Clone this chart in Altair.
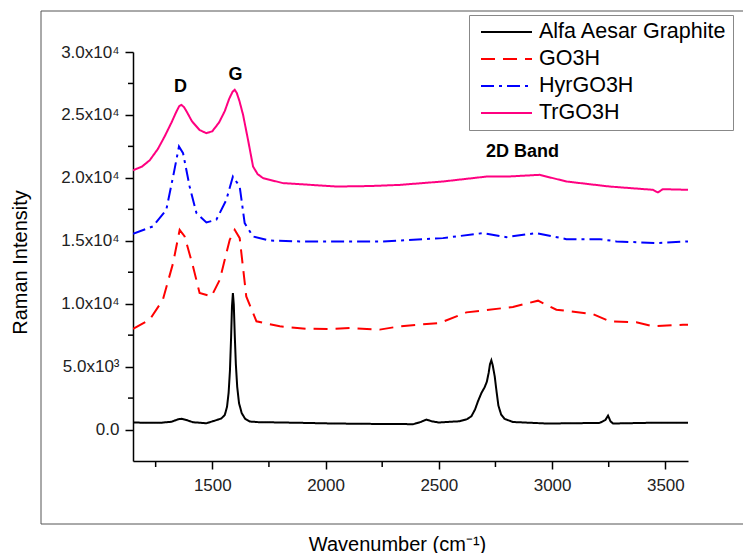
import altair as alt
import pandas as pd

# ---- data ----
series_names = ["Alfa Aesar Graphite", "GO3H", "HyrGO3H", "TrGO3H"]
series_colors = ["#000000", "#ff0000", "#0000ff", "#ff0080"]
series_dashes = [[1, 0], [14, 8], [13, 5, 3, 5], [1, 0]]

graphite_x = [1150, 1200, 1268, 1320, 1350, 1364, 1385, 1415, 1474, 1510, 1540, 1555, 1565, 1572,
              1578, 1583, 1587, 1591, 1595, 1599, 1604, 1610, 1618, 1630, 1645, 1665, 1700, 1739,
              1900, 2033, 2200, 2313, 2386, 2420, 2445, 2470, 2500, 2592, 2625, 2644, 2660, 2673,
              2688, 2702, 2712, 2720, 2726, 2732, 2738, 2747, 2755, 2763, 2775, 2790, 2827, 2975,
              3100, 3210, 3235, 3247, 3258, 3269, 3416, 3600]
graphite_y = [560, 540, 530, 620, 820, 850, 760, 580, 500, 700, 880, 1150, 1800, 2900,
              4700, 7300, 9800, 10850, 9900, 7600, 5200, 3400, 2100, 1300, 850, 640, 590, 580,
              530, 480, 450, 450, 420, 600, 790, 650, 560, 660, 830, 1060, 1600, 2250,
              2900, 3350, 3800, 4500, 5200, 5500, 5100, 4200, 3000, 1900, 1200, 850, 600, 480,
              500, 530, 750, 1110, 650, 480, 530, 530]

go3h_x = [1150, 1224, 1282, 1327, 1356, 1378, 1415, 1444, 1496, 1533, 1577, 1599, 1621, 1650,
          1695, 1798, 1915, 2018, 2107, 2239, 2327, 2504, 2622, 2827, 2938, 3019, 3180, 3254,
          3372, 3445, 3578, 3600]
go3h_y = [7990, 8730, 10320, 13230, 15870, 15340, 12960, 10850, 10580, 11900, 15080, 15870, 15210, 10580,
          8600, 8200, 8010, 7990, 8070, 7940, 8200, 8470, 9310, 9740, 10240, 9520, 9180, 8600,
          8520, 8200, 8330, 8330]

hyr_x = [1150, 1238, 1297, 1327, 1353, 1371, 1400, 1430, 1474, 1518, 1562, 1591, 1621, 1643,
         1680, 1753, 1885, 2018, 2253, 2518, 2695, 2798, 2930, 3063, 3210, 3284, 3460, 3600]
hyr_y = [15560, 16140, 17460, 20100, 22490, 21960, 19310, 17200, 16460, 16670, 18250, 20100, 19310, 16400,
         15340, 15020, 14950, 14950, 14950, 15210, 15610, 15290, 15610, 15130, 15130, 14950, 14820, 14950]

tr_x = [1150, 1190, 1224, 1260, 1290, 1320, 1340, 1354, 1364, 1376, 1392, 1410, 1444, 1474, 1500, 1530,
        1555, 1575, 1590, 1599, 1608, 1620, 1636, 1658, 1680, 1700, 1724, 1812, 1885, 2048, 2200, 2327,
        2518, 2710, 2800, 2945, 3063, 3254, 3445, 3467, 3489, 3600]
tr_y = [20600, 20900, 21400, 22300, 23300, 24400, 25200, 25700, 25800, 25600, 25100, 24500, 23800, 23550, 23700, 24400,
        25300, 26300, 26850, 27000, 26750, 26100, 25000, 23000, 20900, 20300, 19980, 19580, 19500, 19310, 19350, 19440,
        19710, 20100, 20100, 20240, 19710, 19310, 19050, 18840, 19100, 19050]

x_major_ticks = [1500, 2000, 2500, 3000, 3500]
x_minor_ticks = [1250, 1750, 2250, 2750, 3250]
y_major_ticks = [0, 5000, 10000, 15000, 20000, 25000, 30000]
y_minor_ticks = [2500, 7500, 12500, 17500, 22500, 27500]

ann_text = ["D", "G", "2D Band"]
ann_x = [1360, 1603, 2869]
ann_y = [27222, 28175, 22025]

# ---- build table ----
rows = []
for name, xs, ys in zip(series_names,
                        [graphite_x, go3h_x, hyr_x, tr_x],
                        [graphite_y, go3h_y, hyr_y, tr_y]):
    for i, (a, b) in enumerate(zip(xs, ys)):
        rows.append({"series": name, "wn": a, "inten": b, "order": i})
df = pd.DataFrame(rows)

FONT = "Liberation Sans"
xscale = alt.Scale(domain=[1150, 3600], nice=False, zero=False)
yscale = alt.Scale(domain=[-2500, 30000], nice=False, zero=False)

y_label_expr = ("datum.value == 0 ? '0.0' : (datum.value < 10000 ? format(datum.value/1000, '.1f') + 'x10³' "
                ": format(datum.value/10000, '.1f') + 'x10⁴')")

x_axis = alt.Axis(values=x_major_ticks, title="Wavenumber (cm⁻¹)", format="d",
                  titleX=264, titleY=89, titleBaseline="alphabetic",
                  titleFontSize=20, titleFontWeight="normal",
                  titleFont=FONT, titleColor="#000",
                  labelFontSize=17, labelFont=FONT, labelColor="#222", labelPadding=8,
                  tickSize=8, tickWidth=1.5, tickColor="#000",
                  domainColor="#000", domainWidth=1.5, grid=False)
y_axis = alt.Axis(values=y_major_ticks, title="Raman Intensity", labelExpr=y_label_expr,
                  titleX=-103, titleY=210, titleFontSize=20, titleFontWeight="normal",
                  titleFont=FONT, titleColor="#000",
                  labelFontSize=17, labelFont=FONT, labelColor="#222", labelPadding=6,
                  tickSize=8, tickWidth=1.5, tickColor="#000",
                  domainColor="#000", domainWidth=1.5, grid=False)

legend = alt.Legend(
    title=None, orient="none", legendX=336, legendY=-37,
    symbolType="stroke", symbolSize=2601, symbolStrokeWidth=2,
    clipHeight=22, rowPadding=5, padding=6, symbolOffset=5, labelOffset=6,
    labelFontSize=21.5, labelFont=FONT, labelColor="#000",
    strokeColor="#888888", fillColor="white", labelLimit=400,
)

lines = alt.Chart(df).mark_line(strokeWidth=2, clip=True).encode(
    x=alt.X("wn:Q", scale=xscale, axis=x_axis),
    y=alt.Y("inten:Q", scale=yscale, axis=y_axis),
    color=alt.Color("series:N", scale=alt.Scale(domain=series_names, range=series_colors), legend=legend),
    strokeDash=alt.StrokeDash("series:N", scale=alt.Scale(domain=series_names, range=series_dashes), legend=legend),
    order="order:Q",
    detail="series:N",
)

xminor = alt.Chart(pd.DataFrame({"wn": x_minor_ticks})).mark_rule(color="#000", strokeWidth=1.5).encode(
    x=alt.X("wn:Q", scale=xscale, axis=x_axis),
    y=alt.value(409), y2=alt.value(415),
)
yminor = alt.Chart(pd.DataFrame({"inten": y_minor_ticks})).mark_rule(color="#000", strokeWidth=1.5).encode(
    y=alt.Y("inten:Q", scale=yscale, axis=y_axis),
    x=alt.value(-5), x2=alt.value(0),
)

ann = alt.Chart(pd.DataFrame({"t": ann_text, "wn": ann_x, "inten": ann_y})).mark_text(
    fontSize=18, fontWeight="bold", font=FONT, color="#000", baseline="middle", align="center"
).encode(
    x=alt.X("wn:Q", scale=xscale, axis=x_axis),
    y=alt.Y("inten:Q", scale=yscale, axis=y_axis),
    text="t:N",
)

frame = alt.Chart(pd.DataFrame({"a": [0]})).mark_rect(
    fill="transparent", stroke="#555555", strokeWidth=1
).encode(
    x=alt.value(-92), x2=alt.value(612), y=alt.value(-41), y2=alt.value(472)
)

chart = alt.layer(frame, lines, xminor, yminor, ann).properties(
    width=555, height=409,
    autosize=alt.AutoSizeParams(type="none"),
    padding={"left": 125, "top": 44, "right": 55, "bottom": 92},
).configure(font=FONT).configure_view(stroke=None)

chart.save("out.html", embed_options={"renderer": "svg", "actions": False})
